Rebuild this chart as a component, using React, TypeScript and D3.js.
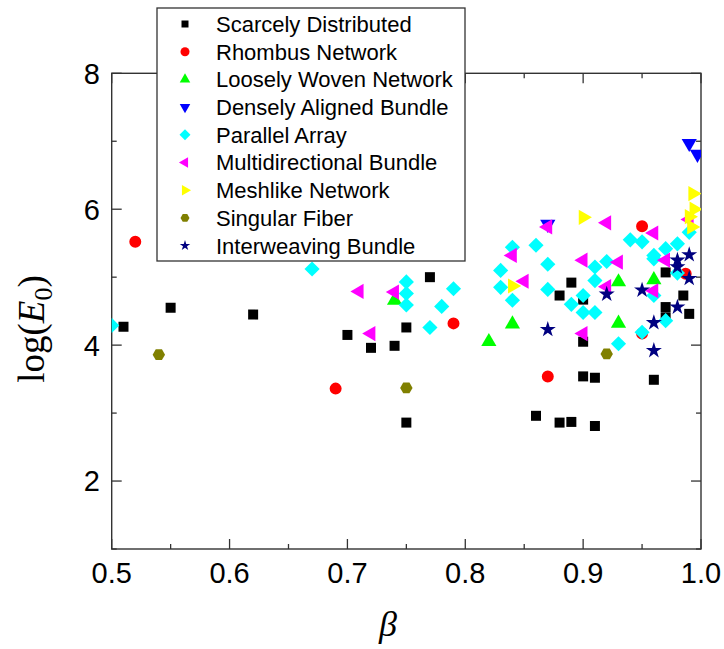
import React from 'react';
import * as d3 from 'd3';

// ---- data: [beta, log(E0)] per morphology class ----
const scarcelyDistributed: [number, number][] = [
  [0.51, 4.27], [0.55, 4.55], [0.62, 4.45], [0.70, 4.15], [0.72, 3.96], [0.74, 3.99],
  [0.75, 4.26], [0.75, 2.86], [0.77, 5.0], [0.88, 4.73], [0.89, 4.92], [0.90, 4.67],
  [0.90, 4.05], [0.90, 3.54], [0.91, 3.52], [0.96, 3.49], [0.86, 2.96], [0.88, 2.86],
  [0.89, 2.87], [0.91, 2.81], [0.97, 5.07], [0.97, 4.56], [0.97, 4.41], [0.985, 4.73],
  [0.99, 4.46],
];
const rhombusNetwork: [number, number][] = [
  [0.52, 5.52], [0.69, 3.36], [0.79, 4.32], [0.87, 3.54], [0.95, 5.75], [0.95, 4.17], [0.987, 5.05],
];
const looselyWovenNetwork: [number, number][] = [
  [0.74, 4.66], [0.82, 4.05], [0.84, 4.31], [0.93, 4.93], [0.93, 4.32], [0.96, 4.96],
];
const denselyAlignedBundle: [number, number][] = [
  [0.87, 5.78], [0.99, 6.97], [0.997, 6.81],
];
const parallelArray: [number, number][] = [
  [0.50, 4.29], [0.67, 5.12], [0.75, 4.93], [0.75, 4.76], [0.75, 4.59], [0.77, 4.26],
  [0.78, 4.57], [0.79, 4.83], [0.83, 5.10], [0.83, 4.85], [0.84, 5.44], [0.84, 4.66],
  [0.86, 5.47], [0.87, 5.19], [0.87, 4.82], [0.89, 4.60], [0.90, 4.73], [0.90, 4.48],
  [0.91, 5.15], [0.91, 4.95], [0.91, 4.48], [0.92, 5.23], [0.94, 5.55], [0.95, 5.52],
  [0.96, 5.32], [0.97, 5.42], [0.98, 5.49], [0.96, 4.73], [0.98, 5.06], [0.97, 4.36],
  [0.95, 4.19], [0.93, 4.02], [0.99, 5.66], [0.96, 5.27],
];
const multidirectionalBundle: [number, number][] = [
  [0.71, 4.79], [0.74, 4.78], [0.72, 4.17], [0.84, 5.32], [0.85, 4.94], [0.87, 5.74],
  [0.90, 5.25], [0.90, 4.17], [0.92, 5.80], [0.92, 4.86], [0.93, 5.22], [0.96, 5.65],
  [0.96, 4.80], [0.97, 5.25], [0.99, 5.85],
];
const meshlikeNetwork: [number, number][] = [
  [0.84, 4.87], [0.90, 5.88], [0.993, 6.23], [0.994, 6.0], [0.99, 5.89], [0.992, 5.74],
];
const singularFiber: [number, number][] = [
  [0.54, 3.86], [0.75, 3.37], [0.92, 3.87],
];
const interweavingBundle: [number, number][] = [
  [0.87, 4.23], [0.92, 4.75], [0.95, 4.81], [0.96, 4.33], [0.96, 3.92], [0.98, 4.56],
  [0.98, 5.25], [0.98, 5.15], [0.99, 5.33], [0.99, 4.98],
];

const xTicksMajor = [0.5, 0.6, 0.7, 0.8, 0.9, 1.0];
const xTicksMinor = [0.55, 0.65, 0.75, 0.85, 0.95];
const yTicksMajor = [2, 4, 6, 8];
const yTicksMinor = [1, 3, 5, 7];

// ---- symbols ----
const symbolHexagon = {
  draw(context: any, size: number) {
    const r = Math.sqrt(size / (1.5 * Math.sqrt(3)));
    for (let i = 0; i < 6; i++) {
      const a = (Math.PI / 3) * i;
      const px = r * Math.cos(a);
      const py = r * Math.sin(a);
      if (i === 0) context.moveTo(px, py);
      else context.lineTo(px, py);
    }
    context.closePath();
  },
};

type Shape = 'square' | 'circle' | 'triUp' | 'triDown' | 'diamond' | 'triLeft' | 'triRight' | 'hexagon' | 'star';

const shapeDefs: Record<Shape, { type: any; rot: number; size: number; legendSize: number }> = {
  square: { type: d3.symbolSquare, rot: 0, size: 100, legendSize: 49 },
  circle: { type: d3.symbolCircle, rot: 0, size: 113, legendSize: 64 },
  triUp: { type: d3.symbolTriangle, rot: 0, size: 100, legendSize: 48 },
  triDown: { type: d3.symbolTriangle, rot: 180, size: 100, legendSize: 48 },
  diamond: { type: d3.symbolSquare, rot: 45, size: 115, legendSize: 60 },
  triLeft: { type: d3.symbolTriangle, rot: -90, size: 100, legendSize: 48 },
  triRight: { type: d3.symbolTriangle, rot: 90, size: 100, legendSize: 48 },
  hexagon: { type: symbolHexagon, rot: 0, size: 100, legendSize: 53 },
  star: { type: d3.symbolStar, rot: 0, size: 80, legendSize: 34 },
};

const series: { name: string; data: [number, number][]; color: string; shape: Shape }[] = [
  { name: 'Scarcely Distributed', data: scarcelyDistributed, color: '#000000', shape: 'square' },
  { name: 'Rhombus Network', data: rhombusNetwork, color: '#ff0000', shape: 'circle' },
  { name: 'Loosely Woven Network', data: looselyWovenNetwork, color: '#00ff00', shape: 'triUp' },
  { name: 'Densely Aligned Bundle', data: denselyAlignedBundle, color: '#0000ff', shape: 'triDown' },
  { name: 'Parallel Array', data: parallelArray, color: '#00ffff', shape: 'diamond' },
  { name: 'Multidirectional Bundle', data: multidirectionalBundle, color: '#ff00ff', shape: 'triLeft' },
  { name: 'Meshlike Network', data: meshlikeNetwork, color: '#ffff00', shape: 'triRight' },
  { name: 'Singular Fiber', data: singularFiber, color: '#808000', shape: 'hexagon' },
  { name: 'Interweaving Bundle', data: interweavingBundle, color: '#000080', shape: 'star' },
];

const W = 724;
const H = 649;
const X0 = 111.7;
const X1 = 701;
const Y0 = 73.3;
const Y1 = 549;

const x = d3.scaleLinear().domain([0.5, 1.0]).range([X0, X1]);
const y = d3.scaleLinear().domain([1, 8]).range([Y1, Y0]);

const axisColor = '#333333';
const sans = '"Liberation Sans", Arial, Helvetica, sans-serif';
const serif = '"Liberation Serif", "Times New Roman", serif';

function symbolPath(shape: Shape, legend = false) {
  const def = shapeDefs[shape];
  return d3.symbol().type(def.type).size(legend ? def.legendSize : def.size)() as string;
}

export default function App() {
  const majorLen = 10;
  const minorLen = 5;
  const legendX = 157;
  const legendY = 8;
  const legendW = 308;
  const legendH = 253;
  const rowH = 27.7;

  return (
    <svg width={W} height={H} style={{ position: 'absolute', left: 0, top: 0, background: '#fff' }}>
      <defs>
        <clipPath id="plot-clip">
          <rect x={X0} y={Y0} width={X1 - X0} height={Y1 - Y0} />
        </clipPath>
      </defs>
      <rect x={0} y={0} width={W} height={H} fill="#ffffff" />

      {/* frame */}
      <rect x={X0} y={Y0} width={X1 - X0} height={Y1 - Y0} fill="none" stroke={axisColor} strokeWidth={1.4} />

      {/* x ticks (inward, bottom & top) */}
      {xTicksMajor.map((t) => (
        <g key={'xM' + t}>
          <line x1={x(t)} x2={x(t)} y1={Y1} y2={Y1 - majorLen} stroke={axisColor} strokeWidth={1.3} />
          <line x1={x(t)} x2={x(t)} y1={Y0} y2={Y0 + majorLen} stroke={axisColor} strokeWidth={1.3} />
          <text x={x(t)} y={583} textAnchor="middle" fontFamily={sans} fontSize={29} fill="#000">
            {t.toFixed(1)}
          </text>
        </g>
      ))}
      {xTicksMinor.map((t) => (
        <g key={'xm' + t}>
          <line x1={x(t)} x2={x(t)} y1={Y1} y2={Y1 - minorLen} stroke={axisColor} strokeWidth={1.3} />
          <line x1={x(t)} x2={x(t)} y1={Y0} y2={Y0 + minorLen} stroke={axisColor} strokeWidth={1.3} />
        </g>
      ))}

      {/* y ticks (inward, left & right) */}
      {yTicksMajor.map((t) => (
        <g key={'yM' + t}>
          <line x1={X0} x2={X0 + majorLen} y1={y(t)} y2={y(t)} stroke={axisColor} strokeWidth={1.3} />
          <line x1={X1} x2={X1 - majorLen} y1={y(t)} y2={y(t)} stroke={axisColor} strokeWidth={1.3} />
          <text x={100} y={y(t)} dy="0.36em" textAnchor="end" fontFamily={sans} fontSize={29} fill="#000">
            {t}
          </text>
        </g>
      ))}
      {yTicksMinor.map((t) => (
        <g key={'ym' + t}>
          <line x1={X0} x2={X0 + minorLen} y1={y(t)} y2={y(t)} stroke={axisColor} strokeWidth={1.3} />
          <line x1={X1} x2={X1 - minorLen} y1={y(t)} y2={y(t)} stroke={axisColor} strokeWidth={1.3} />
        </g>
      ))}

      {/* markers */}
      <g clipPath="url(#plot-clip)">
        {series.map((s) => {
          const def = shapeDefs[s.shape];
          const d = symbolPath(s.shape);
          return (
            <g key={s.name}>
              {s.data.map(([bx, ly], i) => (
                <path
                  key={i}
                  d={d}
                  transform={`translate(${x(bx)},${y(ly)}) rotate(${def.rot})`}
                  fill={s.color}
                />
              ))}
            </g>
          );
        })}
      </g>

      {/* axis titles */}
      <text x={388} y={636} textAnchor="middle" fontFamily={serif} fontStyle="italic" fontSize={36} fill="#000">
        β
      </text>
      <text
        transform={`translate(44,329) rotate(-90)`}
        textAnchor="middle"
        fontFamily={serif}
        fontSize={37}
        fill="#000"
      >
        <tspan>log(</tspan>
        <tspan fontStyle="italic">E</tspan>
        <tspan fontSize={26} dy={8}>0</tspan>
        <tspan dy={-8}>)</tspan>
      </text>

      {/* legend */}
      <g>
        <rect x={legendX} y={legendY} width={legendW} height={legendH} fill="#ffffff" stroke={axisColor} strokeWidth={1.3} />
        {series.map((s, i) => {
          const cy = legendY + 16 + i * rowH;
          const def = shapeDefs[s.shape];
          return (
            <g key={'lg' + s.name}>
              <path
                d={symbolPath(s.shape, true)}
                transform={`translate(185,${cy}) rotate(${def.rot})`}
                fill={s.color}
              />
              <text x={216} y={cy} dy="0.36em" fontFamily={sans} fontSize={22} fill="#000">
                {s.name}
              </text>
            </g>
          );
        })}
      </g>
    </svg>
  );
}
